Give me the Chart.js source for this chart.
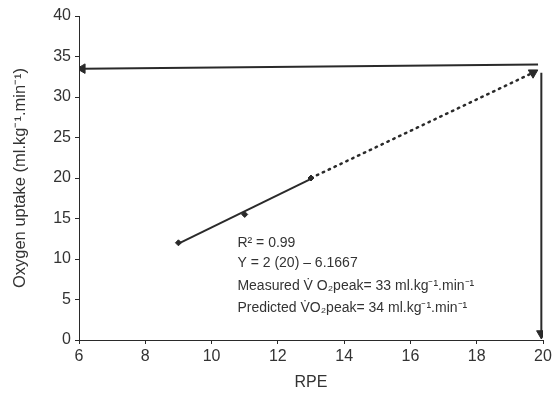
<!DOCTYPE html>
<html>
<head>
<meta charset="utf-8">
<script src="https://cdn.jsdelivr.net/npm/chart.js@4/dist/chart.umd.min.js"></script>
<style>
  html,body{margin:0;padding:0;background:#fff}
  #wrap{width:556px;height:396px;position:relative}
</style>
</head>
<body>
<div id="wrap"><canvas id="c"></canvas></div>
<script>
// ── data ──
const rpe = [9, 11, 13];
const vo2 = [12, 15.5, 20];
const fitX = [9, 13];
const fitY = [11.9, 19.9];
const extrapX = [13, 19.7];
const extrapY = [20, 33];
const predX = [19.85, 6.1];
const predY = [34, 33.5];
const peakX = [19.95, 19.95];
const peakY = [33, 0.8];
const xTicks = [6, 8, 10, 12, 14, 16, 18, 20];
const yTicks = [0, 5, 10, 15, 20, 25, 30, 35, 40];
const notes = [
  'R² = 0.99',
  'Y = 2 (20) – 6.1667',
  'Measured V̇ O₂peak= 33 ml.kg⁻¹.min⁻¹',
  'Predicted V̇O₂peak= 34 ml.kg⁻¹.min⁻¹',
];

const ink = '#2a2a2a';
const txt = '#333';
const font = "'Liberation Sans', Arial, sans-serif";
const pts = (xs, ys) => xs.map((x, i) => ({x, y: ys[i]}));

// annotation text block
const notesPlugin = {
  id: 'notes',
  afterDatasetsDraw(chart) {
    const c = chart.ctx;
    const xs = chart.scales.x;
    c.save();
    c.fillStyle = txt;
    c.font = '14px ' + font;
    c.textBaseline = 'middle';
    const x0 = xs.getPixelForValue(10.78);
    const rows = [243, 263, 286, 308];
    notes.forEach((n, i) => c.fillText(n, x0, rows[i]));
    c.restore();
  }
};

const arrow = (xs, ys, rot, extra) => Object.assign({
  data: pts(xs, ys), borderColor: ink, borderWidth: 2, pointRadius: [0, 5.5], pointStyle: 'triangle',
  pointRotation: rot, pointBackgroundColor: ink, pointBorderColor: ink, pointBorderWidth: 1
}, extra || {});

new Chart(document.getElementById('c'), {
  type: 'line',
  data: {
    datasets: [
      {data: pts(fitX, fitY), borderColor: ink, borderWidth: 2, pointRadius: 0},
      {data: pts(rpe, vo2), showLine: false, pointStyle: 'rectRot', pointRadius: 3,
       pointBackgroundColor: ink, pointBorderColor: ink},
      arrow(extrapX, extrapY, 180, {borderWidth: 2.5, borderDash: [1.5, 5], borderCapStyle: 'round'}),
      arrow(predX, predY, 270),
      arrow(peakX, peakY, 180),
    ]
  },
  options: {
    responsive: true, maintainAspectRatio: false, animation: false,
    layout: {padding: {top: 16, right: 13, left: 0, bottom: 0}},
    plugins: {legend: {display: false}, tooltip: {enabled: false}},
    scales: {
      x: {
        type: 'linear', min: 6, max: 20,
        afterBuildTicks: s => { s.ticks = xTicks.map(v => ({value: v})); },
        afterFit: s => { s.height = 56; },
        ticks: {color: txt, font: {family: font, size: 16}, padding: 3},
        grid: {drawOnChartArea: false, tickLength: 4, color: ink},
        border: {color: ink, width: 1},
        title: {display: true, text: 'RPE', color: txt, font: {family: font, size: 16}, padding: {top: 0}}
      },
      y: {
        min: 0, max: 40,
        afterBuildTicks: s => { s.ticks = yTicks.map(v => ({value: v})); },
        afterFit: s => { s.width = 79; },
        ticks: {color: txt, font: {family: font, size: 16}, padding: 4},
        grid: {drawOnChartArea: false, tickLength: 4, color: ink},
        border: {color: ink, width: 1},
        title: {display: true, text: 'Oxygen uptake (ml.kg⁻¹.min⁻¹)', color: txt, font: {family: font, size: 16.5}, padding: {top: 11, bottom: 0}}
      }
    }
  },
  plugins: [notesPlugin]
});
</script>
</body>
</html>
